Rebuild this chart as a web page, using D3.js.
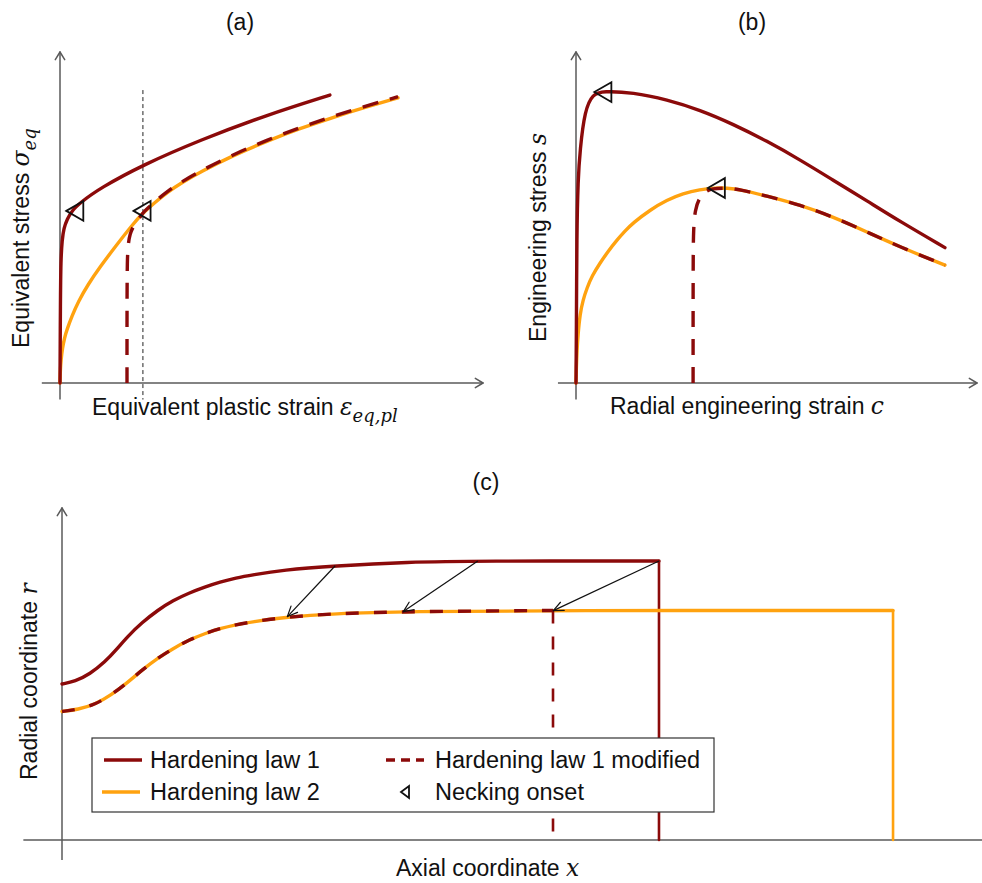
<!DOCTYPE html>
<html><head><meta charset="utf-8">
<script src="https://cdn.jsdelivr.net/npm/d3@7"></script>
<style>body{margin:0;background:#fff}svg{display:block}</style>
</head><body><svg id="c" width="982" height="883"></svg>
<script>
// ---------- DATA (schematic; units 0-100) ----------
// Panel (a): equivalent stress vs equivalent plastic strain
const a_law1 = [[0,0],[0.1,25.1],[0.2,37.2],[0.5,43.2],[0.9,46.8],[1.7,49.5],[2.8,52.0],[4.7,54.4],[9.5,58.9],[19.6,65.9],[33.1,73.4],[48.9,81.0],[63.8,87.0]];
const a_law2 = [[0,0],[0.07,3.63],[0.24,6.95],[0.59,10.57],[1.06,13.6],[1.65,16.16],[2.84,20.24],[4.26,24.47],[6.62,29.76],[9.46,35.05],[13.0,41.09],[17.26,48.04],[19.62,51.36],[22.46,54.53],[25.3,57.58],[29.08,60.73],[33.1,63.72],[40.9,68.7],[48.94,73.11],[56.74,76.89],[64.54,80.27],[72.1,83.26],[79.91,86.16]];
const a_law1mod = [[15.84,0],[15.84,25.1],[15.9,37.2],[16.1,41.7],[16.5,45.0],[17.5,47.8],[18.9,50.0],[19.62,51.6],[22.46,54.8],[25.3,57.9],[29.08,61.0],[33.1,64.0],[40.9,69.0],[48.94,73.4],[56.74,77.2],[64.54,80.6],[72.1,83.6],[79.91,86.5]];
const a_necking = [[3.5,52.0],[19.4,52.0]];
const a_refStrain = 19.6;
// Panel (b): engineering stress vs radial engineering strain
const b_law1 = [[0,0],[0.1,15.1],[0.2,45.3],[0.5,61.3],[1.0,70.4],[2.2,82.5],[4.2,87.3],[6.7,88.2],[14.2,87.8],[22.7,85.6],[30.9,82.5],[39.2,78.2],[47.6,73.1],[55.9,67.4],[64.1,61.3],[72.6,55.0],[80.8,48.8],[92.0,40.9]];
const b_law2 = [[0,0],[0.07,3.93],[0.25,9.97],[0.5,14.5],[1.0,20.85],[1.75,25.08],[2.74,28.7],[3.99,32.33],[5.99,36.25],[7.98,39.73],[10.22,43.2],[12.22,45.92],[14.21,48.34],[18.45,52.27],[22.69,55.29],[26.68,57.25],[30.92,58.46],[34.66,58.91],[37.66,58.91],[40.9,58.46],[47.6,56.5],[55.9,53.8],[64.1,50.2],[72.6,45.6],[80.8,41.1],[92.0,35.6]];
const b_law1mod = [[29.2,0],[29.2,37.2],[29.3,46.8],[29.7,52.3],[30.7,55.9],[32.2,57.8],[33.9,58.8],[37.66,58.91],[40.9,58.46],[47.6,56.5],[55.9,53.8],[64.1,50.2],[72.6,45.6],[80.8,41.1],[92.0,35.6]];
const b_necking = [[6.7,87.9],[35.0,58.9]];
// Panel (c): radial coordinate vs axial coordinate
const c_law1 = [[0,46.99],[1.41,47.74],[3.04,50.0],[4.67,53.61],[5.98,57.53],[7.07,61.14],[8.70,65.51],[10.43,69.28],[12.07,72.14],[13.80,74.40],[15.54,76.20],[17.17,77.71],[18.91,78.92],[20.65,79.82],[24.02,81.33],[29.46,82.53],[37.61,83.73],[45.22,84.04],[64.89,84.04]];
const c_law1End = [[64.89,84.04],[64.89,0]];
const c_law2 = [[0,38.70],[1.74,39.31],[3.59,40.81],[5.33,43.67],[7.07,47.29],[8.70,51.20],[10.43,54.82],[12.07,57.68],[13.80,60.24],[15.54,62.20],[17.17,63.70],[18.91,64.85],[20.65,65.72],[24.02,67.02],[29.46,68.22],[37.61,68.83],[53.37,69.13],[90.33,69.13]];
const c_law2End = [[90.33,69.13],[90.33,0]];
const c_law1modEnd = [[53.37,69.13],[53.37,0]];
const c_arrows = [[[29.7,82.6],[24.5,67.3]],[[45.2,84.0],[37.1,68.8]],[[64.89,84.04],[53.4,69.1]]];
const legendItems = ["Hardening law 1","Hardening law 2","Hardening law 1 modified","Necking onset"];
const titles = ["(a)","(b)","(c)"];

// ---------- STYLE ----------
const RED = "#8B0A0A", ORANGE = "#FFA20F", AXIS = "#5a5a5a";
const SANS = "Liberation Sans, Arial, sans-serif";
const SERIF = "DejaVu Serif, serif";
const svg = d3.select("#c");

function panel(xr, yr) {
  return {x: d3.scaleLinear().domain([0,100]).range(xr), y: d3.scaleLinear().domain([0,100]).range(yr)};
}
const A = panel([60,483],[383,52]);
const B = panel([576,977],[383,52]);
const C = panel([62,982],[840,508]);

function arrowHead(g, x1, y1, x2, y2, len, spread, color, w) {
  const ang = Math.atan2(y2-y1, x2-x1);
  [spread, -spread].forEach(s => {
    g.append("line").attr("x1",x2).attr("y1",y2)
      .attr("x2", x2 - len*Math.cos(ang+s)).attr("y2", y2 - len*Math.sin(ang+s))
      .attr("stroke",color).attr("stroke-width",w).attr("stroke-linecap","round");
  });
}
function axes(P, xStart, yStart, xEnd, yEnd) {
  const g = svg.append("g");
  const x0 = P.x(0), y0 = P.y(0);
  g.append("line").attr("x1",P.x(xStart)).attr("y1",y0).attr("x2",P.x(xEnd)).attr("y2",y0).attr("stroke",AXIS).attr("stroke-width",1.5);
  g.append("line").attr("x1",x0).attr("y1",P.y(yStart)).attr("x2",x0).attr("y2",P.y(yEnd)).attr("stroke",AXIS).attr("stroke-width",1.5);
  arrowHead(g, P.x(xStart), y0, P.x(xEnd), y0, 9, 0.55, AXIS, 1.5);
  arrowHead(g, x0, P.y(yStart), x0, P.y(yEnd), 9, 0.55, AXIS, 1.5);
}
function curve(P, data, color, width, dash, smooth=true) {
  const line = d3.line().x(d=>P.x(d[0])).y(d=>P.y(d[1]));
  if (smooth) line.curve(d3.curveBasis);
  const p = svg.append("path").attr("d", line(data)).attr("fill","none")
    .attr("stroke",color).attr("stroke-width",width).attr("stroke-linejoin","round");
  if (dash) p.attr("stroke-dasharray",dash); else p.attr("stroke-linecap","round");
  return p;
}
function triangle(cx, cy, s) {
  svg.append("path").attr("d",`M${cx-s*0.5},${cy} L${cx+s*0.5},${cy-s*0.58} L${cx+s*0.5},${cy+s*0.58} Z`)
    .attr("fill","none").attr("stroke","#111").attr("stroke-width",1.8).attr("stroke-linejoin","miter");
}
function mathText(parent, parts, fs) {
  parts.forEach(([t,type]) => {
    const ts = parent.append("tspan").text(t);
    if (type==="i") ts.attr("font-family",SERIF).attr("font-style","italic").attr("font-size",fs*1.02);
    if (type==="s") ts.attr("font-family",SERIF).attr("font-style","italic").attr("font-size",fs*0.78).attr("dy",fs*0.3);
  });
}
const FS = 23;
function label(x, y, rot, parts) {
  const t = svg.append("text").attr("text-anchor","start").attr("font-family",SANS).attr("font-size",FS).attr("fill","#111")
    .attr("transform",`translate(${x},${y}) rotate(${rot})`);
  mathText(t, parts, FS);
}

// ---------- Titles ----------
[[240,30],[752,30],[486,490]].forEach((p,i)=>{
  svg.append("text").attr("x",p[0]).attr("y",p[1]).attr("text-anchor","middle").attr("font-family",SANS).attr("font-size",23).attr("fill","#111").text(titles[i]);
});

// ---------- Panel (a) ----------
axes(A, -4.3, -5, 100, 100);
svg.append("line").attr("x1",A.x(a_refStrain)).attr("x2",A.x(a_refStrain)).attr("y1",A.y(88.5)).attr("y2",A.y(-5))
  .attr("stroke","#222").attr("stroke-width",1).attr("stroke-dasharray","4,3");
curve(A, a_law2, ORANGE, 3.4);
curve(A, a_law1mod, RED, 3.4, "16,12");
curve(A, a_law1, RED, 3.4);
a_necking.forEach(d=>triangle(A.x(d[0]), A.y(d[1]), 17));
label(29, 348, -90, [["Equivalent stress ","n"],["σ","i"],["eq","s"]]);
label(92, 415, 0, [["Equivalent plastic strain ","n"],["ε","i"],["eq,pl","s"]]);

// ---------- Panel (b) ----------
axes(B, -4.5, -5, 100, 100);
curve(B, b_law2, ORANGE, 3.4);
curve(B, b_law1mod, RED, 3.4, "16,12");
curve(B, b_law1, RED, 3.4);
b_necking.forEach(d=>triangle(B.x(d[0]), B.y(d[1]), 17));
label(546, 342, -90, [["Engineering stress ","n"],["s","i"]]);
label(610, 414, 0, [["Radial engineering strain ","n"],["c","i"]]);

// ---------- Panel (c) ----------
axes(C, -4.2, -6, 102, 100);
curve(C, c_law1, RED, 3.4);
curve(C, c_law1End, RED, 2.6, null, false);
curve(C, c_law2, ORANGE, 3.4);
curve(C, c_law2End, ORANGE, 2.6, null, false);
curve(C, c_law2.filter(d=>d[0]<=53.4), RED, 3.4, "13,15");
curve(C, c_law1modEnd, RED, 2.6, "13,13", false);
c_arrows.forEach(([s,e])=>{
  const g = svg.append("g");
  g.append("line").attr("x1",C.x(s[0])).attr("y1",C.y(s[1])).attr("x2",C.x(e[0])).attr("y2",C.y(e[1])).attr("stroke","#111").attr("stroke-width",1.2);
  arrowHead(g, C.x(s[0]),C.y(s[1]),C.x(e[0]),C.y(e[1]), 11, 0.42, "#111", 1.2);
});
label(37, 780, -90, [["Radial coordinate ","n"],["r","i"]]);
label(396, 876, 0, [["Axial coordinate ","n"],["x","i"]]);

// Legend
const lg = svg.append("g");
lg.append("rect").attr("x",92).attr("y",738).attr("width",622).attr("height",74).attr("fill","#fff").attr("stroke","#333").attr("stroke-width",1.2);
const LF = 23.5;
const rows = [760, 792];
lg.append("line").attr("x1",104).attr("x2",142).attr("y1",rows[0]).attr("y2",rows[0]).attr("stroke",RED).attr("stroke-width",3.6);
lg.append("line").attr("x1",102).attr("x2",140).attr("y1",rows[1]).attr("y2",rows[1]).attr("stroke",ORANGE).attr("stroke-width",3.6);
lg.append("line").attr("x1",386).attr("x2",424).attr("y1",rows[0]).attr("y2",rows[0]).attr("stroke",RED).attr("stroke-width",3.6).attr("stroke-dasharray","9,6");
lg.append("path").attr("d",`M401,${rows[1]} L409,${rows[1]-6} L409,${rows[1]+6} Z`).attr("fill","none").attr("stroke","#111").attr("stroke-width",1.8);
[[150,rows[0],0],[150,rows[1],1],[435,rows[0],2],[435,rows[1],3]].forEach(([x,y,i])=>{
  lg.append("text").attr("x",x).attr("y",y+8).attr("font-family",SANS).attr("font-size",LF).attr("fill","#111").text(legendItems[i]);
});
</script></body></html>
